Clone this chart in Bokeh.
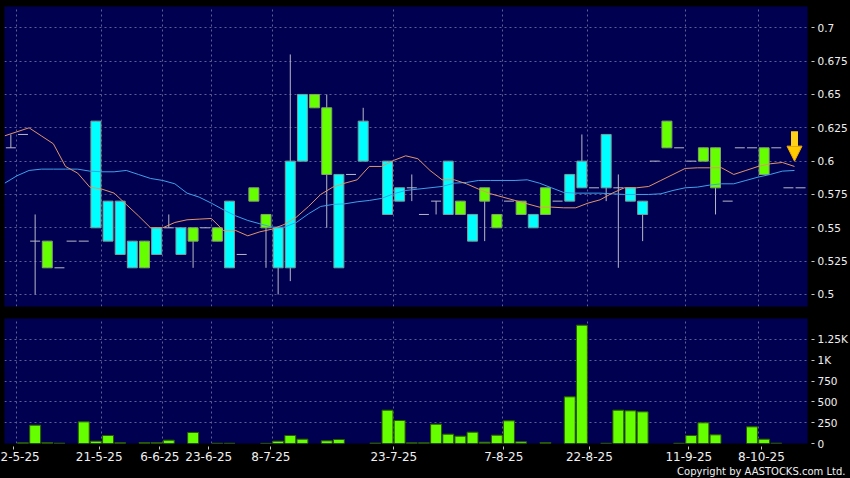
import numpy as np
from bokeh.plotting import figure
from bokeh.layouts import column
from bokeh.models import (Range1d, FixedTicker, CustomJSTickFormatter, Title,
                          Arrow, NormalHead)
from bokeh.embed import file_html
from bokeh.resources import INLINE

nan = float("nan")

# ---- data ----
date_labels = ["2-5-25", "21-5-25", "6-6-25", "23-6-25", "8-7-25", "23-7-25",
               "7-8-25", "22-8-25", "11-9-25", "8-10-25"]
date_ticks = [0.19, 7.27, 12.26, 16.29, 21.4, 31.52, 40.57, 47.62, 55.8, 61.78]
grid_slots = [0.5, 7.5, 12.5, 16.5, 21.5, 31.5, 40.5, 47.5, 55.5, 61.5]

open_ = [0.61, 0.62, 0.54, 0.54, 0.52, 0.54, 0.54, 0.55, 0.54, 0.53,
         0.52, 0.54, 0.53, 0.55, 0.53, 0.55, 0.55, 0.55, 0.52, 0.53,
         0.58, 0.56, 0.52, 0.52, 0.60, 0.65, 0.64, 0.52, 0.59, 0.60,
         nan, 0.56, 0.57, 0.58, 0.56, 0.57, 0.56, 0.57, 0.54, 0.58,
         0.56, 0.57, 0.57, 0.55, 0.58, 0.57, 0.57, 0.58, 0.58, 0.58,
         0.58, 0.57, 0.56, 0.60, 0.63, 0.61, 0.60, 0.61, 0.61, 0.57,
         0.61, 0.61, 0.61, 0.61, 0.58, 0.58]
close = [0.61, 0.62, 0.54, 0.52, 0.52, 0.54, 0.54, 0.63, 0.57, 0.57,
         0.54, 0.52, 0.55, 0.55, 0.55, 0.54, 0.55, 0.54, 0.57, 0.53,
         0.57, 0.55, 0.55, 0.60, 0.65, 0.64, 0.59, 0.59, 0.59, 0.63,
         nan, 0.60, 0.58, 0.58, 0.56, 0.57, 0.60, 0.56, 0.56, 0.57,
         0.55, 0.57, 0.56, 0.56, 0.56, 0.57, 0.59, 0.60, 0.58, 0.62,
         0.58, 0.58, 0.57, 0.60, 0.61, 0.61, 0.60, 0.60, 0.58, 0.57,
         0.61, 0.61, 0.59, 0.61, 0.58, 0.58]
high = [0.62, 0.62, 0.56, 0.54, 0.52, 0.54, 0.54, 0.63, 0.57, 0.57,
        0.54, 0.54, 0.55, 0.56, 0.55, 0.55, 0.55, 0.55, 0.57, 0.53,
        0.58, 0.56, 0.55, 0.68, 0.65, 0.65, 0.65, 0.59, 0.59, 0.64,
        nan, 0.60, 0.58, 0.59, 0.56, 0.57, 0.60, 0.57, 0.56, 0.58,
        0.56, 0.57, 0.57, 0.56, 0.58, 0.57, 0.59, 0.62, 0.58, 0.62,
        0.59, 0.58, 0.57, 0.60, 0.63, 0.61, 0.60, 0.61, 0.61, 0.57,
        0.61, 0.61, 0.61, 0.61, 0.58, 0.58]
low = [0.61, 0.62, 0.50, 0.52, 0.52, 0.54, 0.54, 0.55, 0.54, 0.53,
       0.52, 0.52, 0.53, 0.55, 0.53, 0.52, 0.55, 0.54, 0.52, 0.53,
       0.57, 0.52, 0.50, 0.51, 0.60, 0.64, 0.55, 0.52, 0.59, 0.60,
       nan, 0.56, 0.57, 0.57, 0.56, 0.56, 0.56, 0.56, 0.54, 0.54,
       0.55, 0.57, 0.56, 0.55, 0.56, 0.57, 0.57, 0.58, 0.58, 0.57,
       0.52, 0.57, 0.54, 0.60, 0.61, 0.61, 0.60, 0.60, 0.56, 0.57,
       0.61, 0.61, 0.59, 0.61, 0.58, 0.58]
volume = [0, 8, 220, 12, 4, 0, 260, 28, 96, 10,
          0, 12, 12, 40, 0, 132, 0, 3, 3, 0,
          0, 2, 28, 96, 52, 0, 32, 48, 0, 0,
          5, 400, 276, 8, 8, 232, 112, 88, 136, 16,
          100, 272, 20, 0, 12, 0, 560, 1420, 0, 3,
          400, 392, 380, 0, 0, 3, 96, 248, 104, 0,
          0, 200, 52, 4, 0, 0]
# moving averages, one value per day boundary
ma_fast = [0.619, 0.622, 0.625, 0.619, 0.613, 0.596, 0.591, 0.5805, 0.579, 0.576,
           0.5675, 0.559, 0.55, 0.55, 0.554, 0.556, 0.5565, 0.557, 0.548, 0.548,
           0.544, 0.547, 0.549, 0.5525, 0.558, 0.566, 0.575, 0.5805, 0.5835, 0.586,
           0.596, 0.596, 0.6005, 0.604, 0.6018, 0.593, 0.586, 0.586, 0.583, 0.579,
           0.5755, 0.573, 0.5705, 0.568, 0.5655, 0.5655, 0.565, 0.565, 0.5685, 0.571,
           0.576, 0.58, 0.58, 0.581, 0.5855, 0.59, 0.5945, 0.595, 0.595, 0.595,
           0.59, 0.593, 0.596, 0.598, 0.599, 0.596]
ma_slow = [0.5835, 0.589, 0.593, 0.594, 0.594, 0.594, 0.594, 0.5925, 0.592, 0.592,
           0.593, 0.59, 0.587, 0.5855, 0.583, 0.576, 0.573, 0.5685, 0.5635, 0.559,
           0.5555, 0.553, 0.5505, 0.5505, 0.554, 0.5605, 0.566, 0.5675, 0.568, 0.5695,
           0.5705, 0.572, 0.5755, 0.578, 0.579, 0.58, 0.581, 0.5835, 0.584, 0.5855,
           0.5855, 0.5855, 0.5855, 0.586, 0.5835, 0.58, 0.5765, 0.576, 0.576, 0.576,
           0.5755, 0.575, 0.575, 0.575, 0.5755, 0.578, 0.58, 0.5805, 0.582, 0.583,
           0.583, 0.5855, 0.588, 0.59, 0.5925, 0.593]
price_ticks = [0.5, 0.525, 0.55, 0.575, 0.6, 0.625, 0.65, 0.675, 0.7]
volume_ticks = [0, 250, 500, 750, 1000, 1250]
signal_top = 0.6225
signal_tip = 0.600

# ---- styles ----
BG = "#000050"
GRID = "#5e5e92"
UP = "#00ffff"
DOWN = "#66ff00"
WICK = "#b8b8c8"
TXT = "#f0f0f0"
FONT = "DejaVu Sans"
BODY_W = 0.82
W = 850

o = np.array(open_, dtype=float)
c = np.array(close, dtype=float)
h = np.array(high, dtype=float)
lo = np.array(low, dtype=float)
v = np.array(volume, dtype=float)
idx = np.arange(len(o), dtype=float)
ma_x = np.arange(len(ma_fast), dtype=float) - 0.5

valid = ~np.isnan(o)
up = valid & (c > o)
dn = valid & (c < o)
flat = valid & (c == o)

x_range = Range1d(-0.5226, 65.57)


def style(p):
    p.background_fill_color = BG
    p.border_fill_color = "black"
    p.outline_line_color = None
    for g in (p.xgrid, p.ygrid):
        g.grid_line_color = GRID
        g.grid_line_dash = "2 3"
        g.grid_line_width = 1
    p.xgrid.ticker = FixedTicker(ticks=grid_slots)
    ax = p.yaxis[0]
    ax.axis_line_color = None
    ax.major_tick_line_color = "#c8c8c8"
    ax.major_tick_in = -4
    ax.major_tick_out = 7
    ax.minor_tick_line_color = None
    ax.major_label_standoff = 3
    ax.major_label_text_font = FONT
    ax.major_label_text_font_size = "10.5px"
    ax.major_label_text_color = TXT


p1 = figure(width=W, height=312, x_range=x_range, y_range=Range1d(0.490975, 0.715975),
            output_backend="svg", toolbar_location=None, x_axis_location=None,
            y_axis_location="right", min_border_left=4, min_border_top=6,
            min_border_bottom=6, min_border_right=43)
style(p1)
p1.yaxis.ticker = FixedTicker(ticks=price_ticks)
p1.yaxis.formatter = CustomJSTickFormatter(code="return String(Number(tick.toFixed(3)));")

# wicks
p1.segment(x0=idx[valid], x1=idx[valid], y0=lo[valid], y1=h[valid],
           line_color=WICK, line_width=1)
# bodies
p1.vbar(x=idx[up], width=BODY_W, bottom=o[up], top=c[up],
        fill_color=UP, line_color="#7f9a9a", line_width=1)
p1.vbar(x=idx[dn], width=BODY_W, bottom=c[dn], top=o[dn],
        fill_color=DOWN, line_color="#86a070", line_width=1)
# unchanged days
p1.segment(x0=idx[flat] - BODY_W / 2, x1=idx[flat] + BODY_W / 2, y0=c[flat], y1=c[flat],
           line_color=WICK, line_width=1)
# moving averages
p1.line(ma_x, ma_slow, line_color="#3fa0ea", line_width=1)
p1.line(ma_x, ma_fast, line_color="#e2946a", line_width=1)

# signal arrow at the last MA point
p1.add_layout(Arrow(x_start=ma_x[-1], y_start=signal_top, x_end=ma_x[-1], y_end=signal_tip,
                    line_color="#ffd21a", line_width=7,
                    end=NormalHead(size=15, fill_color="#ffcc00", line_color="#f0a800",
                                   line_width=1)))

p2 = figure(width=W, height=166, x_range=x_range, y_range=Range1d(0, 1500),
            output_backend="svg", toolbar_location=None, x_axis_location="below",
            y_axis_location="right", min_border_left=4, min_border_top=6,
            min_border_bottom=35, min_border_right=43)
style(p2)
p2.yaxis.ticker = FixedTicker(ticks=volume_ticks)
p2.yaxis.formatter = CustomJSTickFormatter(
    code="return tick >= 1000 ? String(tick / 1000) + 'K' : String(tick);")
xa = p2.xaxis[0]
xa.ticker = FixedTicker(ticks=date_ticks)
xa.formatter = CustomJSTickFormatter(args=dict(pos=date_ticks, lab=date_labels),
                                     code="const k = pos.indexOf(tick); return k >= 0 ? lab[k] : '';")
xa.axis_line_color = None
xa.major_tick_line_color = "#c8c8c8"
xa.major_tick_in = -3
xa.major_tick_out = 6
xa.minor_tick_line_color = None
xa.major_label_standoff = 2
xa.major_label_text_font = FONT
xa.major_label_text_font_size = "12px"
xa.major_label_text_color = TXT

has_vol = v > 0
p2.vbar(x=idx[has_vol], width=0.9, bottom=0, top=v[has_vol],
        fill_color=DOWN, line_color="#2c5a00", line_width=1)

p2.add_layout(Title(text="Copyright by AASTOCKS.com Ltd.", align="right",
                    text_font=FONT, text_font_size="10px", text_font_style="normal",
                    text_color=TXT, standoff=0, offset=-38), "below")

layout = column(p1, p2, spacing=0)
layout.styles = {"background-color": "black"}

open("out.html", "w").write(file_html(layout, INLINE))
